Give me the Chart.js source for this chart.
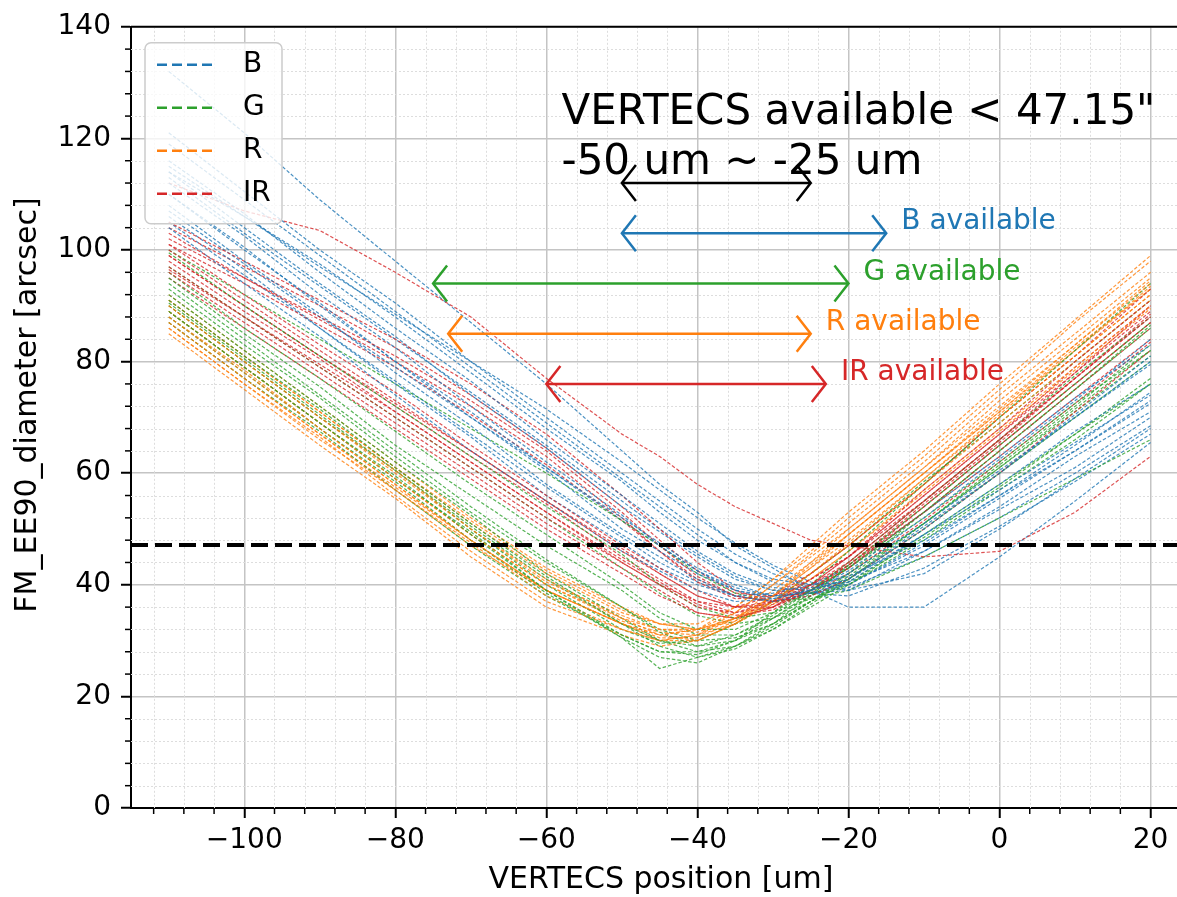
<!DOCTYPE html>
<html>
<head>
<meta charset="utf-8">
<script src="https://cdn.jsdelivr.net/npm/chart.js@4.4.0/dist/chart.umd.min.js"></script>
<style>
  html, body { margin: 0; padding: 0; background: #fff; }
  canvas { display: block; }
</style>
</head>
<body>
<canvas id="chart" width="1177" height="897"></canvas>
<script>
// VERTECS focus position vs EE90 diameter, one line per field point
const positions = [-110, -100, -90, -80, -70, -60, -50, -45, -40, -35, -30, -25, -20, -10, 0, 10, 20];

const bLines = [
  [112, 102.5, 92, 82.5, 72, 62, 52.5, 47, 42.5, 39, 37.5, 39, 42, 51, 60.5, 70, 80],
  [108, 98, 88.5, 78, 68.5, 58, 49, 45, 41, 38, 37, 38.5, 40.5, 49, 58, 67.5, 76],
  [116, 106.5, 96, 86, 76.5, 66, 56, 51, 46, 42, 39.5, 39, 41, 50, 60, 70.5, 81],
  [104, 94, 84.5, 74, 64, 55, 46, 42.5, 39, 37, 37.5, 39, 42.5, 52, 62.5, 73, 84],
  [110, 100, 90.5, 80, 70, 60.5, 50, 46, 42, 39, 38, 39, 41, 49, 57, 65.5, 74],
  [114, 106, 97.5, 88, 78, 68, 58.5, 53, 48, 44, 41, 40, 41.5, 48, 56, 64, 72.5],
  [106, 96.5, 86, 76, 66.5, 56, 47.5, 43, 40, 38, 38.5, 40, 43, 53, 63, 73.5, 83],
  [114, 104, 94, 84.5, 74, 64.5, 54, 49.5, 45, 41, 39, 39.5, 40, 47, 55.5, 64, 73],
  [110, 100.5, 90, 80, 71, 61, 52, 47.5, 43, 40, 38, 38.5, 39, 46, 54, 63, 71],
  [121, 110.5, 100, 90.5, 80, 70, 60, 55, 50, 45.5, 42, 40, 40.5, 46, 53.5, 61, 70],
  [132, 121, 109, 98, 87, 76, 64, 58, 53, 47, 43, 39, 36, 36, 45, 55, 65.5],
  [115, 106, 97, 88.5, 80, 71.5, 62, 57, 52, 47.5, 43.5, 40.5, 39, 42, 50, 59, 68],
  [107, 97.5, 88, 79, 70, 61, 51.5, 47, 42.5, 39.5, 38, 38.5, 40, 47.5, 56, 65, 74.5],
  [113, 103, 93.5, 84, 74.5, 65, 55, 50, 45.5, 41.5, 39, 38.5, 39.5, 45, 52, 60, 68.5],
  [119, 109, 99, 89, 79, 69, 59, 54, 49, 44, 40.5, 38.5, 38, 43, 50.5, 58.5, 67],
  [105, 95.5, 86, 76.5, 67, 57.5, 48.5, 44, 40.5, 38, 37, 38, 41, 50.5, 60, 70, 79.5]
];
const gLines = [
  [89, 79, 69, 59.5, 49, 39, 31, 28, 28, 30, 34, 38.5, 43, 53, 64, 75, 86],
  [91, 81, 71.5, 61, 51, 41.5, 33, 30, 29, 31, 34.5, 39, 44, 55, 66, 77.5, 88],
  [88, 78, 68, 58.5, 48, 38.5, 30.5, 27, 26, 29, 33, 38, 43.5, 54, 65, 76, 87],
  [93, 83, 73.5, 63, 53, 44, 36, 31.5, 29, 30, 33, 37, 41, 50, 60, 70, 80],
  [96, 86, 77, 67.5, 58, 49, 40, 35, 32, 32, 35, 39, 43, 52, 62, 72.5, 82],
  [99.5, 90, 81, 72, 63, 54, 45.5, 40, 36, 34, 35, 37.5, 40, 48, 57, 66, 76],
  [87, 77, 67.5, 57, 47, 38, 31, 28, 27.5, 30, 35, 40, 46, 58, 70, 82, 94],
  [90, 80, 70, 60.5, 50, 40, 32, 29.5, 30, 33, 37, 42, 47, 58.5, 69, 80, 91],
  [92, 82, 72, 62, 52.5, 42, 34, 30, 28, 29, 32, 36, 40, 49, 58, 67, 76],
  [95, 85, 75.5, 65, 56, 47, 39, 34, 31, 31, 34, 38, 42, 51, 61, 71, 81],
  [89, 79, 69, 59, 49.5, 39, 30.5, 25, 27, 29, 32.5, 37, 42, 53, 64, 75, 86.5],
  [100, 92, 84, 76, 68, 60, 51.5, 47, 42, 38.5, 37, 37.5, 39, 45, 52, 59, 66],
  [94, 84, 74, 64, 54, 44.5, 36, 32, 30, 30.5, 33, 37, 41.5, 51, 61, 71.5, 82],
  [97, 88, 79, 70, 61, 52, 43, 38.5, 34.5, 33, 34, 37, 40.5, 48.5, 57.5, 67, 77],
  [90.5, 80.5, 70.5, 60.5, 50.5, 41, 33, 29, 27, 28.5, 32, 36.5, 41, 51, 61.5, 72, 83]
];
const rLines = [
  [88, 78, 68, 58, 48, 39, 33, 31, 32, 35, 40, 45, 50, 61, 72, 83, 94],
  [86, 76, 66.5, 56, 46, 37, 32, 30, 31, 34, 38, 43, 48, 59, 70, 81, 92],
  [90, 80, 70, 60.5, 50, 41, 34, 32, 32, 34, 38, 43, 49, 60, 71, 82.5, 93],
  [87, 77, 67, 57, 47.5, 38, 32, 30, 31, 35, 40, 45.5, 51, 62, 74, 85, 96],
  [91, 81, 71, 61, 51, 42, 35, 33, 33, 36, 41, 46, 52, 63, 75, 87, 98],
  [85, 75, 65, 55.5, 45, 36, 31, 29, 30, 33, 37, 42, 47, 58, 69, 80, 91],
  [89, 79, 69, 59, 49, 40, 34, 31, 30, 33, 37, 41, 46, 57, 68, 79, 90],
  [88, 78.5, 68, 58, 48, 39, 33, 31, 32, 36, 41, 47, 53, 64, 76, 87.5, 99],
  [92, 82, 72, 62, 52, 43, 36, 33, 32, 34, 37, 42, 47, 58, 70, 81, 92],
  [86, 76, 66, 57, 47, 39, 33, 30, 30, 33, 38, 44, 50, 61, 73, 84, 95],
  [90, 80, 70, 60, 50, 40.5, 34.5, 32, 31.5, 34, 39, 44, 49, 60, 71.5, 83, 94.5],
  [89, 79, 69, 59, 49, 40, 33.5, 31.5, 31, 33, 36.5, 41, 46, 56.5, 67.5, 78.5, 89.5],
  [87, 77, 67, 57.5, 48, 39, 33, 30.5, 30.5, 33.5, 38, 43.5, 49, 60, 71, 82, 93],
  [91, 81, 71, 61, 51.5, 42.5, 35.5, 33, 32, 33.5, 37, 42, 47.5, 59, 70.5, 82, 93.5]
];
const irLines = [
  [100, 91, 82, 73, 64, 55, 46, 42, 38, 36, 37, 40, 44, 55, 66, 77, 88],
  [98, 89, 80.5, 71, 62, 53, 44, 40, 36, 35, 37, 41, 45, 56, 67, 78, 89],
  [103, 95, 88, 81, 73, 64, 53, 47, 41.5, 38, 37, 39, 43, 53, 64, 75, 86],
  [96, 87, 78, 69, 60, 51, 43, 39, 35, 34, 36, 40, 45, 57, 68, 80, 91],
  [101, 92, 83, 74.5, 65, 56, 47, 43, 39, 36, 36, 39, 43, 54, 65, 76, 87],
  [105, 98, 91, 84, 76, 67, 56, 50, 44, 39, 37, 38, 41, 50, 60, 71, 82],
  [97, 88, 79, 70, 61, 52, 44, 40, 37, 36, 38, 42, 47, 58, 70, 81, 93],
  [99, 90, 81, 72, 63, 54.5, 45, 41, 37, 35, 36, 39, 44, 55, 66, 78, 90],
  [102, 95, 87.5, 80, 72, 63, 52, 46, 40.5, 37.5, 38, 41, 45, 55, 66, 77, 88],
  [112, 107, 103.5, 96, 88, 77, 67, 63, 58, 54, 51, 48, 47, 45, 46, 53, 63],
  [95, 86, 77, 68, 59, 50, 42, 38, 35, 34, 36, 40, 45, 56, 67, 79, 90],
  [104, 97, 90, 82.5, 74, 64.5, 54, 48, 42.5, 38.5, 38, 40, 43.5, 53, 63, 73.5, 84],
  [99, 90, 81, 72.5, 64, 55, 46.5, 42, 38, 36, 36.5, 39.5, 43.5, 54, 65, 76, 87],
  [96.5, 88, 79.5, 71, 62, 53, 44.5, 40.5, 36.5, 34.5, 35.5, 39, 43.5, 54.5, 65.5, 77, 88.5],
  [101, 94, 86.5, 79, 70.5, 61.5, 51.5, 46, 41, 38, 37, 38.5, 42, 51.5, 62, 72.5, 83.5]
];

const bandNames = ["B", "G", "R", "IR"];
const bandColors = ["#1f77b4", "#2ca02c", "#ff7f0e", "#d62728"];
const limitValue = 47.15;
const xRange = [-115, 23.5];
const yRange = [0, 140];

// available ranges drawn as double arrows
const arrowSpans = [
  { from: -50, to: -25, y: 112, color: "#000000", label: "" },
  { from: -50, to: -15, y: 103, color: "#1f77b4", label: "B available" },
  { from: -75, to: -20, y: 94, color: "#2ca02c", label: "G available" },
  { from: -73, to: -25, y: 85, color: "#ff7f0e", label: "R available" },
  { from: -60, to: -23, y: 76, color: "#d62728", label: "IR available" }
];
const noteLines = ["VERTECS available < 47.15\"", "-50 um ~ -25 um"];
const noteAt = { x: -58, y: 122.5 };

const FONT = "'DejaVu Sans', sans-serif";

function withAlpha(hex, a) {
  const n = parseInt(hex.slice(1), 16);
  return "rgba(" + (n >> 16) + "," + ((n >> 8) & 255) + "," + (n & 255) + "," + a + ")";
}

const datasets = [];
const groups = [bLines, gLines, rLines, irLines];
const most = Math.max(...groups.map(g => g.length));
for (let i = 0; i < most; i++) {
  groups.forEach((g, k) => {
    if (!g[i]) return;
    datasets.push({
      label: bandNames[k],
      data: g[i].map((v, j) => ({ x: positions[j], y: v })),
      borderColor: withAlpha(bandColors[k], 0.8),
      borderWidth: 1.2,
      borderDash: [3.5, 2],
      pointRadius: 0,
      tension: 0,
      fill: false,
      order: 1
    });
  });
}
datasets.push({
  label: "limit",
  data: [{ x: xRange[0], y: limitValue }, { x: xRange[1], y: limitValue }],
  borderColor: "#000",
  borderWidth: 4,
  borderDash: [17, 7],
  pointRadius: 0,
  order: 0
});

function drawArrowHead(ctx, x, y, dir) {
  ctx.beginPath();
  ctx.moveTo(x - dir * 14, y - 18);
  ctx.lineTo(x, y);
  ctx.lineTo(x - dir * 14, y + 18);
  ctx.stroke();
}

const overlay = {
  id: "overlay",
  beforeDatasetsDraw(chart) {
    const { ctx, chartArea: a, scales: { x, y } } = chart;
    ctx.save();
    // minor grid
    ctx.strokeStyle = "#dddddd";
    ctx.lineWidth = 1;
    ctx.setLineDash([2, 2]);
    for (let v = Math.ceil(xRange[0] / 4) * 4; v <= xRange[1]; v += 4) {
      if (v % 20 === 0) continue;
      const px = Math.round(x.getPixelForValue(v)) + 0.5;
      ctx.beginPath(); ctx.moveTo(px, a.top); ctx.lineTo(px, a.bottom); ctx.stroke();
    }
    for (let v = yRange[0]; v <= yRange[1]; v += 4) {
      if (v % 20 === 0) continue;
      const py = Math.round(y.getPixelForValue(v)) + 0.5;
      ctx.beginPath(); ctx.moveTo(a.left, py); ctx.lineTo(a.right, py); ctx.stroke();
    }
    // minor ticks
    ctx.setLineDash([]);
    ctx.strokeStyle = "#000";
    ctx.lineWidth = 1.5;
    for (let v = Math.ceil(xRange[0] / 4) * 4; v <= xRange[1]; v += 4) {
      if (v % 20 === 0) continue;
      const px = x.getPixelForValue(v);
      ctx.beginPath(); ctx.moveTo(px, a.bottom); ctx.lineTo(px, a.bottom + 6); ctx.stroke();
    }
    for (let v = yRange[0]; v <= yRange[1]; v += 4) {
      if (v % 20 === 0) continue;
      const py = y.getPixelForValue(v);
      ctx.beginPath(); ctx.moveTo(a.left - 6, py); ctx.lineTo(a.left, py); ctx.stroke();
    }
    ctx.restore();
  },
  afterDatasetsDraw(chart) {
    const { ctx, chartArea: a, scales: { x, y } } = chart;
    ctx.save();
    // top spine
    ctx.strokeStyle = "#000";
    ctx.lineWidth = 2;
    ctx.beginPath(); ctx.moveTo(a.left, a.top); ctx.lineTo(a.right, a.top); ctx.stroke();

    // arrows + labels
    ctx.lineWidth = 2.5;
    ctx.font = "28px " + FONT;
    ctx.textBaseline = "middle";
    ctx.textAlign = "left";
    arrowSpans.forEach(s => {
      const x1 = x.getPixelForValue(s.from), x2 = x.getPixelForValue(s.to);
      const py = y.getPixelForValue(s.y);
      ctx.strokeStyle = s.color;
      ctx.beginPath(); ctx.moveTo(x1, py); ctx.lineTo(x2, py); ctx.stroke();
      drawArrowHead(ctx, x1, py, -1);
      drawArrowHead(ctx, x2, py, 1);
      if (s.label) {
        ctx.fillStyle = s.color;
        ctx.fillText(s.label, x.getPixelForValue(s.to + 2), y.getPixelForValue(s.y + 2));
      }
    });

    // note text
    ctx.fillStyle = "#000";
    ctx.font = "42px " + FONT;
    ctx.textBaseline = "alphabetic";
    const nx = x.getPixelForValue(noteAt.x), ny = y.getPixelForValue(noteAt.y);
    noteLines.forEach((t, i) => ctx.fillText(t, nx, ny + i * 50));

    // legend
    const lx = a.left + 14, ly = a.top + 16, lw = 137, lh = 181;
    ctx.fillStyle = "rgba(255,255,255,0.8)";
    ctx.strokeStyle = "#cccccc";
    ctx.lineWidth = 1.5;
    ctx.beginPath();
    ctx.roundRect(lx, ly, lw, lh, 6);
    ctx.fill();
    ctx.stroke();
    ctx.font = "28px " + FONT;
    ctx.textBaseline = "middle";
    bandNames.forEach((n, i) => {
      const ry = ly + 22 + i * 43;
      ctx.strokeStyle = bandColors[i];
      ctx.lineWidth = 2.5;
      ctx.setLineDash([10, 5]);
      ctx.beginPath(); ctx.moveTo(lx + 12, ry); ctx.lineTo(lx + 72, ry); ctx.stroke();
      ctx.setLineDash([]);
      ctx.fillStyle = "#000";
      ctx.fillText(n, lx + 98, ry);
    });

    // axis titles
    ctx.font = "30px " + FONT;
    ctx.textAlign = "center";
    ctx.fillText("VERTECS position [um]", 661, 880);
    ctx.translate(28, 405);
    ctx.rotate(-Math.PI / 2);
    ctx.fillText("FM_EE90_diameter [arcsec]", 0, 0);
    ctx.restore();
  }
};

function tickText(v) {
  return v < 0 ? "\u2212" + Math.abs(v) : String(v);
}

new Chart(document.getElementById("chart"), {
  type: "line",
  data: { datasets },
  options: {
    responsive: false,
    animation: false,
    devicePixelRatio: 1,
    layout: { padding: { top: 21, right: 0, left: 0, bottom: 0 } },
    plugins: { legend: { display: false }, tooltip: { enabled: false } },
    scales: {
      x: {
        type: "linear",
        min: xRange[0],
        max: xRange[1],
        afterFit: s => { s.height = 89; },
        ticks: {
          stepSize: 20,
          includeBounds: false,
          color: "#000",
          padding: 6,
          maxRotation: 0,
          font: { size: 28, family: FONT },
          callback: tickText
        },
        grid: { color: "#c4c4c4", lineWidth: 1.5, tickColor: "#000", tickLength: 10, tickWidth: 2 },
        border: { color: "#000", width: 2 }
      },
      y: {
        type: "linear",
        min: yRange[0],
        max: yRange[1],
        afterFit: s => { s.width = 131; },
        ticks: {
          stepSize: 20,
          color: "#000",
          padding: 10,
          font: { size: 28, family: FONT },
          callback: tickText
        },
        grid: { color: "#c4c4c4", lineWidth: 1.5, tickColor: "#000", tickLength: 10, tickWidth: 2 },
        border: { color: "#000", width: 2 }
      }
    }
  },
  plugins: [overlay]
});
</script>
</body>
</html>
